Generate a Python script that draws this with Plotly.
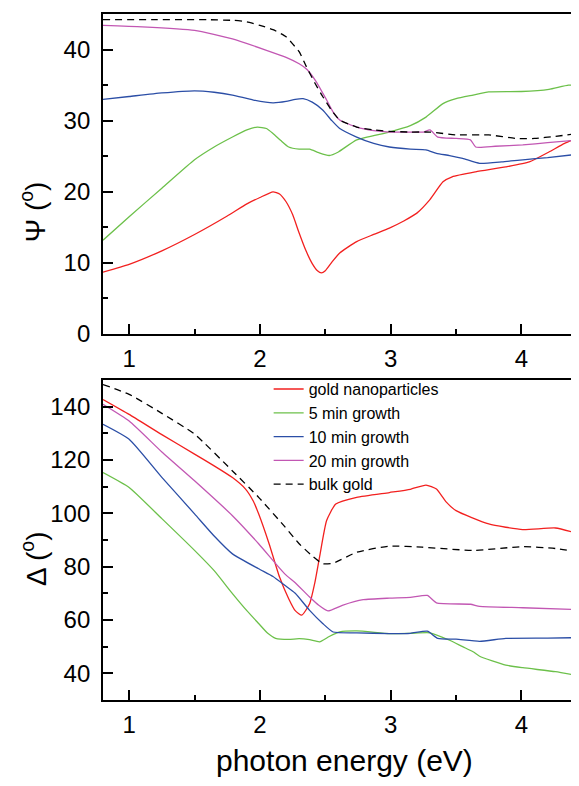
import plotly.graph_objects as go

# ---- Psi panel (top) ----
psi_np_E = [0.80, 1.00, 1.25, 1.50, 1.75, 1.90, 2.00, 2.10, 2.15, 2.20, 2.25, 2.30, 2.35, 2.40, 2.44, 2.47, 2.50, 2.55, 2.61, 2.74, 2.87, 2.99, 3.10, 3.20, 3.30, 3.40, 3.47, 3.65, 3.88, 4.06, 4.21, 4.33, 4.44]
psi_np = [8.7, 9.8, 11.7, 14.0, 16.6, 18.3, 19.2, 20.0, 19.7, 18.6, 16.8, 14.2, 11.8, 9.9, 8.9, 8.6, 8.9, 10.1, 11.4, 13.0, 14.0, 14.9, 15.9, 17.0, 18.9, 21.4, 22.1, 22.8, 23.5, 24.2, 25.6, 26.8, 27.7]

psi_5_E = [0.80, 1.00, 1.25, 1.50, 1.65, 1.79, 1.90, 1.98, 2.05, 2.10, 2.16, 2.22, 2.30, 2.38, 2.45, 2.53, 2.60, 2.74, 2.99, 3.15, 3.27, 3.40, 3.50, 3.63, 3.75, 4.00, 4.21, 4.36, 4.44]
psi_5 = [13.2, 16.5, 20.5, 24.5, 26.3, 27.7, 28.7, 29.1, 28.9, 28.2, 27.2, 26.3, 26.0, 26.0, 25.5, 25.1, 25.6, 27.3, 28.4, 29.3, 30.5, 32.4, 33.1, 33.6, 34.05, 34.1, 34.4, 35.0, 34.9]

psi_10_E = [0.80, 1.00, 1.25, 1.50, 1.65, 1.79, 1.95, 2.10, 2.20, 2.27, 2.33, 2.40, 2.48, 2.55, 2.61, 2.74, 2.87, 2.99, 3.15, 3.27, 3.35, 3.45, 3.55, 3.68, 3.85, 4.01, 4.20, 4.44]
psi_10 = [33.0, 33.4, 33.9, 34.2, 34.0, 33.6, 32.9, 32.5, 32.7, 33.0, 33.1, 32.6, 31.5, 30.0, 28.9, 27.7, 26.8, 26.3, 26.0, 25.9, 25.4, 25.1, 24.7, 24.0, 24.2, 24.5, 24.8, 25.3]

psi_20_E = [0.80, 1.10, 1.50, 1.79, 2.05, 2.20, 2.30, 2.36, 2.43, 2.51, 2.56, 2.61, 2.74, 2.87, 2.99, 3.15, 3.25, 3.30, 3.36, 3.50, 3.61, 3.65, 3.80, 4.01, 4.20, 4.44]
psi_20 = [43.4, 43.2, 42.7, 41.5, 39.9, 38.9, 38.0, 37.2, 35.5, 32.9, 31.2, 30.1, 29.1, 28.6, 28.4, 28.4, 28.4, 28.7, 27.7, 27.5, 27.3, 26.3, 26.4, 26.6, 26.9, 27.3]

psi_bulk_E = [0.80, 1.20, 1.60, 1.80, 1.90, 2.00, 2.10, 2.20, 2.25, 2.30, 2.355, 2.42, 2.48, 2.55, 2.61, 2.74, 2.87, 2.99, 3.15, 3.30, 3.50, 3.75, 3.96, 4.10, 4.26, 4.44]
psi_bulk = [44.2, 44.2, 44.2, 44.1, 43.9, 43.4, 42.8, 41.8, 40.8, 39.7, 37.6, 35.3, 33.4, 31.4, 30.1, 29.1, 28.7, 28.5, 28.4, 28.4, 28.0, 28.0, 27.5, 27.5, 27.8, 28.2]

# ---- Delta panel (bottom) ----
del_np_E = [0.80, 1.00, 1.25, 1.50, 1.65, 1.79, 1.89, 1.95, 1.99, 2.07, 2.15, 2.22, 2.27, 2.32, 2.38, 2.42, 2.456, 2.51, 2.58, 2.74, 2.99, 3.15, 3.27, 3.35, 3.42, 3.50, 3.75, 4.01, 4.26, 4.44]
del_np = [142.7, 137.1, 129.5, 122.2, 117.8, 113.4, 109.1, 104.5, 99.8, 88.6, 76.1, 68.0, 63.5, 61.8, 66.1, 74.0, 83.6, 97.3, 103.5, 106.0, 107.8, 109.0, 110.6, 109.1, 104.5, 101.0, 96.0, 93.9, 94.5, 92.3]

del_5_E = [0.80, 1.00, 1.25, 1.50, 1.65, 1.79, 1.90, 1.99, 2.06, 2.12, 2.22, 2.30, 2.38, 2.456, 2.53, 2.61, 2.74, 2.99, 3.15, 3.30, 3.45, 3.55, 3.63, 3.68, 3.88, 4.01, 4.26, 4.44]
del_5 = [115.3, 109.7, 98.0, 86.1, 78.5, 69.9, 63.5, 58.7, 55.0, 53.1, 52.7, 53.0, 52.6, 51.8, 53.8, 55.5, 55.9, 54.9, 55.0, 55.2, 52.4, 50.0, 48.1, 46.4, 43.1, 42.1, 40.6, 39.1]

del_10_E = [0.80, 1.00, 1.25, 1.50, 1.65, 1.79, 1.99, 2.10, 2.19, 2.27, 2.38, 2.48, 2.56, 2.74, 2.99, 3.15, 3.28, 3.36, 3.50, 3.68, 3.88, 4.20, 4.44]
del_10 = [133.4, 127.8, 113.5, 99.8, 91.5, 84.8, 79.2, 76.3, 73.0, 70.0, 63.6, 58.7, 55.5, 55.2, 54.9, 55.0, 55.8, 53.1, 52.8, 52.0, 53.1, 53.2, 53.4]

del_20_E = [0.80, 1.00, 1.25, 1.50, 1.79, 1.99, 2.19, 2.27, 2.38, 2.45, 2.52, 2.63, 2.79, 2.99, 3.15, 3.28, 3.35, 3.61, 3.68, 4.01, 4.44]
del_20 = [140.9, 134.6, 123.0, 112.2, 99.1, 88.6, 77.3, 74.0, 68.6, 65.5, 63.4, 65.5, 67.6, 68.2, 68.5, 69.2, 66.4, 65.9, 65.1, 64.6, 63.9]

del_bulk_E = [0.80, 1.00, 1.25, 1.50, 1.79, 1.99, 2.19, 2.30, 2.40, 2.48, 2.56, 2.74, 2.99, 3.24, 3.63, 4.01, 4.26, 4.44]
del_bulk = [148.3, 144.6, 137.5, 129.7, 115.9, 106.0, 95.0, 88.6, 84.0, 81.1, 81.3, 85.4, 87.7, 87.3, 86.1, 87.5, 86.8, 85.4]

names = ["gold nanoparticles", "5 min growth", "10 min growth", "20 min growth", "bulk gold"]
colors = ["#f2201f", "#6cc04a", "#2b4ea6", "#c257b3", "#000000"]
dashes = ["solid", "solid", "solid", "solid", "7px,5px"]

psi_sets = [(psi_np_E, psi_np), (psi_5_E, psi_5), (psi_10_E, psi_10), (psi_20_E, psi_20), (psi_bulk_E, psi_bulk)]
del_sets = [(del_np_E, del_np), (del_5_E, del_5), (del_10_E, del_10), (del_20_E, del_20), (del_bulk_E, del_bulk)]

FONT = "Liberation Sans, Arial, sans-serif"
fig = go.Figure()

for i in range(5):
    ex, ey = psi_sets[i]
    fig.add_trace(go.Scatter(x=ex, y=ey, mode="lines", xaxis="x2", yaxis="y2",
                             line=dict(color=colors[i], width=1.3, dash=dashes[i], shape="spline", smoothing=0.5),
                             showlegend=False, name=names[i]))
for i in range(5):
    ex, ey = del_sets[i]
    fig.add_trace(go.Scatter(x=ex, y=ey, mode="lines", xaxis="x", yaxis="y",
                             line=dict(color=colors[i], width=1.3, dash=dashes[i], shape="spline", smoothing=0.5),
                             showlegend=True, name=names[i]))

xcommon = dict(range=[0.8, 4.44], tickvals=[1, 2, 3, 4], ticks="inside", ticklen=10, tickwidth=1.5,
               tickcolor="black", showline=True, linecolor="black", linewidth=1.8, mirror=True,
               showgrid=False, zeroline=False, automargin=False,
               tickfont=dict(family=FONT, size=24, color="black"),
               minor=dict(tickvals=[1.5, 2.5, 3.5], ticks="inside", ticklen=5, tickwidth=1.5, tickcolor="black"),
               ticklabelstandoff=2)
ycommon = dict(ticks="inside", ticklen=10, tickwidth=1.5, tickcolor="black", showline=True,
               linecolor="black", linewidth=1.8, mirror=False, showgrid=False, zeroline=False,
               automargin=False,
               tickfont=dict(family=FONT, size=24, color="black"), ticklabelstandoff=6)

# page body has an 8px default margin: figure is sized/placed to compensate
fig.update_layout(
    width=571, height=778,
    margin=dict(l=95, r=0, t=6, b=86),
    paper_bgcolor="white", plot_bgcolor="white",
    xaxis=dict(anchor="y", domain=[0, 1], **xcommon),
    xaxis2=dict(anchor="y2", domain=[0, 1], **xcommon),
    yaxis=dict(anchor="x", domain=[0, 0.4665], range=[30, 150], tickvals=[40, 60, 80, 100, 120, 140],
               minor=dict(tickvals=[50, 70, 90, 110, 130], ticks="inside", ticklen=5, tickwidth=1.5, tickcolor="black"),
               **ycommon),
    yaxis2=dict(anchor="x2", domain=[0.5335, 1], range=[0, 45], tickvals=[0, 10, 20, 30, 40],
                minor=dict(tickvals=[5, 15, 25, 35], ticks="inside", ticklen=5, tickwidth=1.5, tickcolor="black"),
                **ycommon),
    legend=dict(x=0.348, y=0.478, xanchor="left", yanchor="top", bgcolor="rgba(0,0,0,0)",
                font=dict(family=FONT, size=16, color="black"), tracegroupgap=0),
    annotations=[
        dict(text="Ψ (<sup>o</sup>)", xref="paper", yref="paper", x=-0.147, y=0.711,
             xanchor="center", yanchor="middle", textangle=-90, showarrow=False,
             font=dict(family=FONT, size=28, color="black")),
        dict(text="Δ (<sup>o</sup>)", xref="paper", yref="paper", x=-0.145, y=0.207,
             xanchor="center", yanchor="middle", textangle=-90, showarrow=False,
             font=dict(family=FONT, size=28, color="black")),
        dict(text="photon energy (eV)", xref="paper", yref="paper", x=0.507, y=-0.088,
             xanchor="center", yanchor="middle", showarrow=False,
             font=dict(family=FONT, size=30, color="black")),
    ],
)

fig.write_html("out.html")
